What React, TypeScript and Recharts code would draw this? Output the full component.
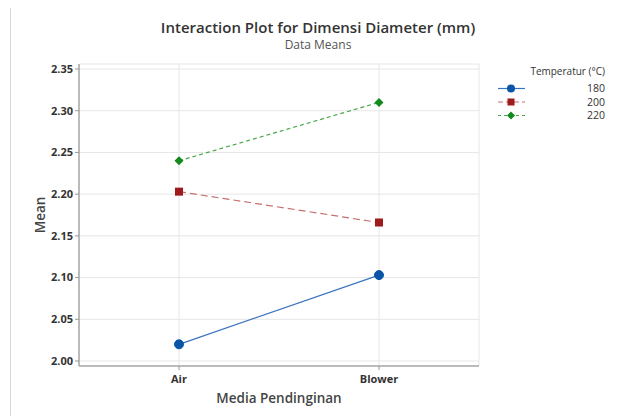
import React from "react";
import { LineChart, Line, XAxis, YAxis, CartesianGrid, Label } from "recharts";

const categories = ["Air", "Blower"];
const temp180 = [2.02, 2.103];
const temp200 = [2.203, 2.166];
const temp220 = [2.24, 2.31];
const yTicks = [2.0, 2.05, 2.1, 2.15, 2.2, 2.25, 2.3, 2.35];
const seriesNames = ["180", "200", "220"];

const data = categories.map((c, i) => ({
  cat: c,
  t180: temp180[i],
  t200: temp200[i],
  t220: temp220[i],
}));

const FONT = "'Open Sans', 'Noto Sans', sans-serif";
const BLUE = "#0a55a8";
const RED = "#9e1b1b";
const GREEN = "#138a1e";

const CircleDot = (p: any) => <circle key={p.index} cx={p.cx} cy={p.cy} r={4.5} fill={BLUE} stroke={BLUE} />;
const SquareDot = (p: any) => <rect key={p.index} x={p.cx - 4} y={p.cy - 4} width={8} height={8} fill={RED} />;
const DiamondDot = (p: any) => (
  <polygon key={p.index} points={`${p.cx},${p.cy - 4.5} ${p.cx + 4.5},${p.cy} ${p.cx},${p.cy + 4.5} ${p.cx - 4.5},${p.cy}`} fill={GREEN} />
);

const LegendBox = () => {
  const rows = [
    { name: seriesNames[0], color: BLUE, line: "#3a74c0", dash: undefined as string | undefined, kind: "c" },
    { name: seriesNames[1], color: RED, line: "#c77070", dash: "5 3", kind: "s" },
    { name: seriesNames[2], color: GREEN, line: "#4aa84a", dash: "3 3", kind: "d" },
  ];
  return (
    <svg width={130} height={64} style={{ fontFamily: FONT, display: "block" }}>
      <text x={115} y={12} textAnchor="end" fontSize={10} fill="#333">Temperatur (°C)</text>
      {rows.map((r, i) => {
        const y = 25.5 + i * 13.5;
        const cx = 21;
        return (
          <g key={r.name}>
            <line x1={8} x2={35} y1={y} y2={y} stroke={r.line} strokeWidth={1.2} strokeDasharray={r.dash} />
            {r.kind === "c" && <circle cx={cx} cy={y} r={4} fill={r.color} />}
            {r.kind === "s" && <rect x={cx - 3.5} y={y - 3.5} width={7} height={7} fill={r.color} />}
            {r.kind === "d" && <polygon points={`${cx},${y - 4} ${cx + 4},${y} ${cx},${y + 4} ${cx - 4},${y}`} fill={r.color} />}
            <text x={115} y={y + 3.5} textAnchor="end" fontSize={10.5} fill="#333">{r.name}</text>
          </g>
        );
      })}
    </svg>
  );
};

export default function App() {
  return (
    <div style={{ position: "relative", width: 617, height: 416, margin: "-8px 0 0 -8px", background: "#fff", fontFamily: FONT, overflow: "hidden" }}>
      <div style={{ position: "absolute", left: 10, top: 7, width: 620, height: 420, borderLeft: "1px solid #d8d8d8", borderTop: "1px solid #d8d8d8" }} />
      <div style={{ position: "absolute", left: 0, width: 636, top: 17, textAlign: "center", fontSize: 15, fontWeight: 600, color: "#333", fontFamily: FONT }}>
        Interaction Plot for Dimensi Diameter (mm)
      </div>
      <div style={{ position: "absolute", left: 0, width: 636, top: 36, textAlign: "center", fontSize: 12, color: "#555", fontFamily: FONT }}>
        Data Means
      </div>
      <div style={{ position: "absolute", left: 0, top: 0 }}>
        <LineChart width={617} height={416} data={data} margin={{ top: 64, right: 138, left: 0, bottom: 0 }}>
          <CartesianGrid stroke="#e6e6e6" strokeWidth={1} />
          <XAxis
            dataKey="cat"
            padding={{ left: 100, right: 100 }}
            height={50}
            tickLine={{ stroke: "#999" }}
            tickSize={4}
            tickMargin={5}
            axisLine={{ stroke: "#a8a8a8", strokeWidth: 1.5 }}
            tick={{ fontSize: 11, fontWeight: 700, fill: "#333", fontFamily: FONT }}
          >
            <Label value="Media Pendinginan" position="insideBottom" offset={13} style={{ fontSize: 13.5, fontWeight: 600, fill: "#444", fontFamily: FONT }} />
          </XAxis>
          <XAxis xAxisId="top" dataKey="cat" orientation="top" height={0} tick={false} tickLine={false} axisLine={{ stroke: "#a8a8a8", strokeWidth: 1.5 }} />
          <YAxis
            domain={[1.994, 2.356]}
            ticks={yTicks}
            width={79}
            tickFormatter={(v: number) => v.toFixed(2)}
            tickLine={{ stroke: "#999" }}
            tickSize={4}
            axisLine={{ stroke: "#a8a8a8", strokeWidth: 1.5 }}
            tick={{ fontSize: 11, fontWeight: 700, fill: "#333", fontFamily: FONT }}
            allowDataOverflow
          >
            <Label value="Mean" angle={-90} position="insideLeft" offset={40} style={{ fontSize: 13.5, fontWeight: 600, fill: "#444", fontFamily: FONT, textAnchor: "middle" }} />
          </YAxis>
          <YAxis yAxisId="right" orientation="right" width={0} domain={[0, 1]} tick={false} tickLine={false} axisLine={{ stroke: "#a8a8a8", strokeWidth: 1.5 }} />
          <Line type="linear" dataKey="t180" name="180" stroke="#3a74c0" strokeWidth={1.2} dot={CircleDot} activeDot={false} isAnimationActive={false} />
          <Line type="linear" dataKey="t200" name="200" stroke="#c77070" strokeWidth={1.2} strokeDasharray="7 4" dot={SquareDot} activeDot={false} isAnimationActive={false} />
          <Line type="linear" dataKey="t220" name="220" stroke="#4aa84a" strokeWidth={1.2} strokeDasharray="4 3" dot={DiamondDot} activeDot={false} isAnimationActive={false} />
        </LineChart>
      </div>
      <div style={{ position: "absolute", left: 490, top: 63 }}>
        <LegendBox />
      </div>
    </div>
  );
}
